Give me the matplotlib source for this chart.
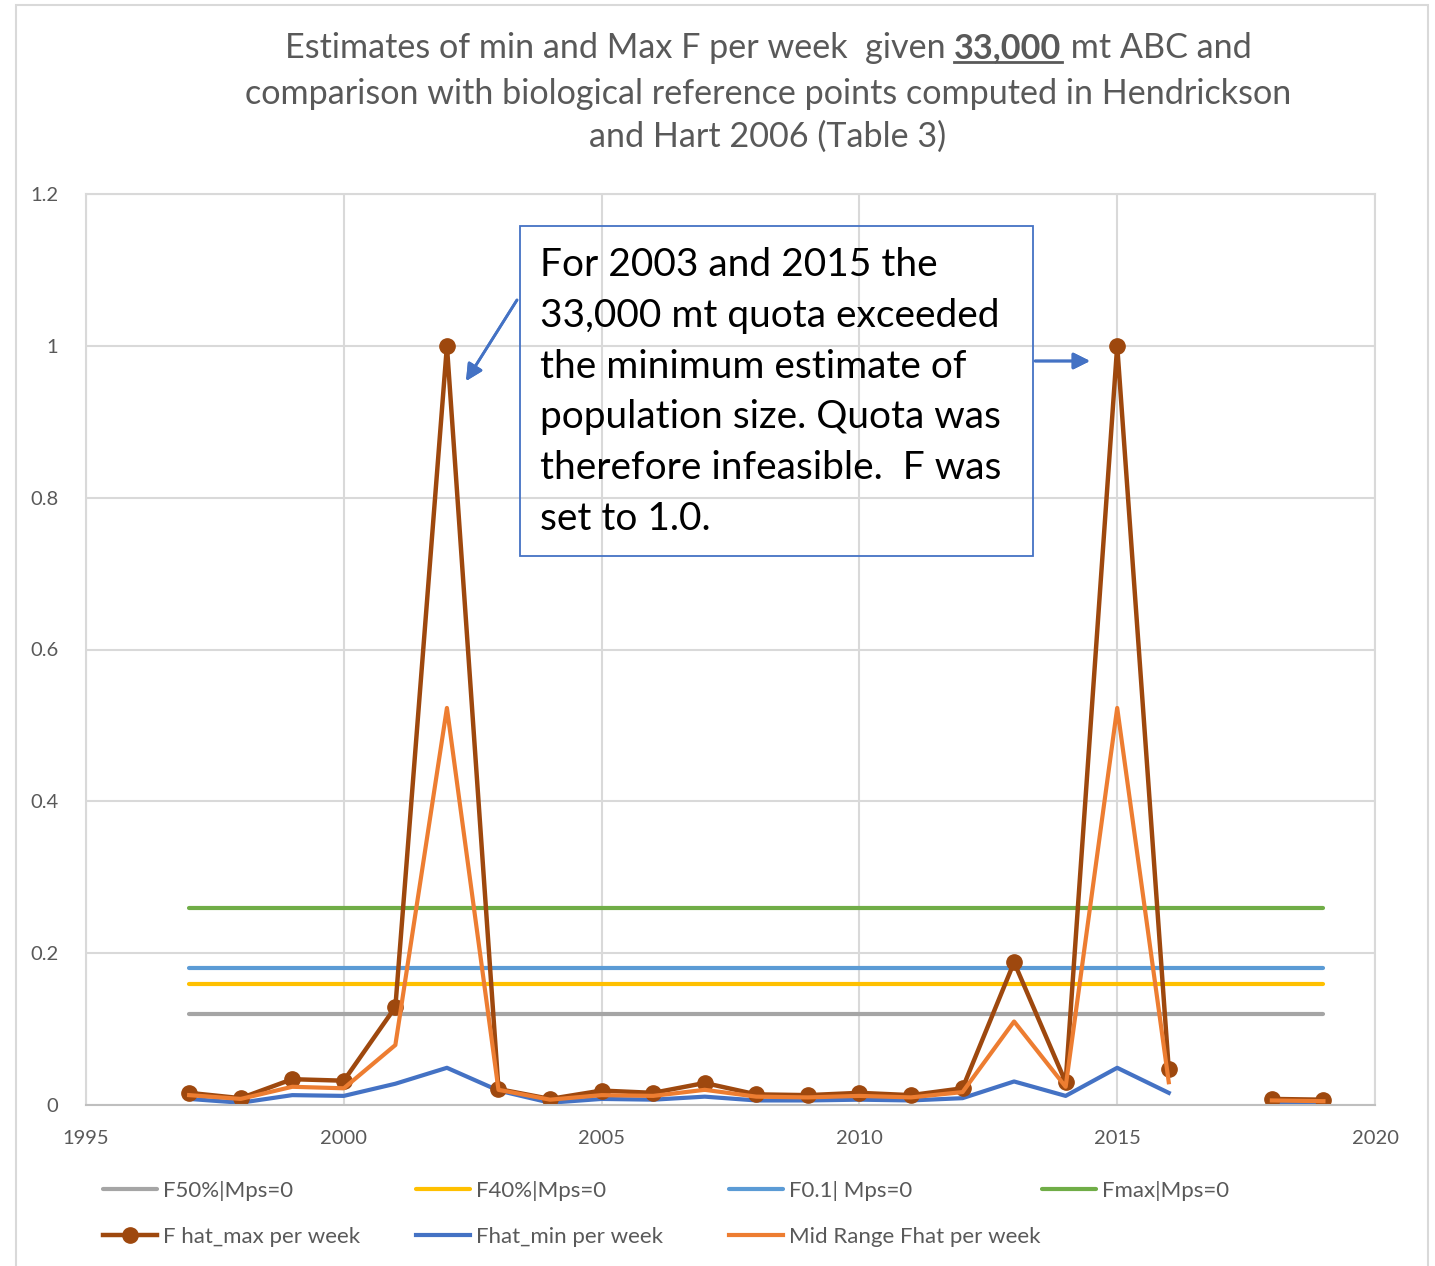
import numpy as np
import matplotlib
matplotlib.use('Agg')
import matplotlib.pyplot as plt
from matplotlib.lines import Line2D
from matplotlib.patches import Rectangle

plt.rcParams['font.family'] = ['Lato', 'DejaVu Sans']

years = np.arange(1997, 2020)
nan = np.nan

# weekly F estimates (2017 has no estimate)
f_hat_max = [0.016, 0.009, 0.034, 0.032, 0.129, 1.0, 0.021, 0.008, 0.019, 0.016,
             0.029, 0.014, 0.013, 0.016, 0.013, 0.022, 0.188, 0.030, 1.0, 0.047,
             nan, 0.008, 0.007]
f_hat_mid = [0.013, 0.008, 0.024, 0.022, 0.079, 0.523, 0.020, 0.007, 0.013, 0.012,
             0.020, 0.011, 0.010, 0.012, 0.010, 0.017, 0.110, 0.024, 0.523, 0.030,
             nan, 0.006, 0.005]
f_hat_min = [0.008, 0.003, 0.013, 0.012, 0.028, 0.049, 0.019, 0.003, 0.008, 0.007,
             0.011, 0.006, 0.006, 0.007, 0.006, 0.009, 0.031, 0.012, 0.049, 0.016,
             nan, 0.004, 0.003]

# biological reference points, Hendrickson and Hart 2006
ref_labels = ['F50%|Mps=0', 'F40%|Mps=0', 'F0.1| Mps=0', 'Fmax|Mps=0']
ref_values = [0.12, 0.16, 0.18, 0.26]
ref_colors = ['#A5A5A5', '#FFC000', '#5B9BD5', '#70AD47']

W, H = 1435, 1266
fig = plt.figure(figsize=(W / 100, H / 100), dpi=100)

def fx(px):
    return px / W

def fy(py):
    return 1 - py / H

ax = fig.add_axes([fx(86), fy(1105), fx(1375) - fx(86), fy(194) - fy(1105)])

grey = '#595959'
grid = '#D9D9D9'

ref_lines = []
for lab, val, col in zip(ref_labels, ref_values, ref_colors):
    ln, = ax.plot(years, np.full(len(years), val), color=col, lw=3.0,
                  solid_capstyle='round', label=lab)
    ref_lines.append(ln)

l_min, = ax.plot(years, f_hat_min, color='#4472C4', lw=3.0, label='Fhat_min per week')
l_mid, = ax.plot(years, f_hat_mid, color='#ED7D31', lw=3.0, label='Mid Range Fhat per week')
l_max, = ax.plot(years, f_hat_max, color='#9E480E', lw=3.2, marker='o', ms=11,
                 label='F hat_max per week')
# orange line sits above the dark markers
l_mid.set_zorder(l_max.get_zorder() + 0.5)

ax.set_xlim(1995, 2020)
ax.set_ylim(0, 1.2)
ax.set_xticks(range(1995, 2021, 5))
ax.set_yticks([0, 0.2, 0.4, 0.6, 0.8, 1.0, 1.2])
ax.set_yticklabels(['0', '0.2', '0.4', '0.6', '0.8', '1', '1.2'])
ax.tick_params(length=0, labelsize=14.5, colors=grey)
ax.tick_params(axis='x', pad=18)
ax.tick_params(axis='y', pad=20)
ax.grid(True, color=grid, lw=1.5)
ax.set_axisbelow(True)
for sp in ax.spines.values():
    sp.set_color(grid)
    sp.set_linewidth(1.5)
ax.spines['bottom'].set_color('#BFBFBF')

# outer chart frame
fig.add_artist(Rectangle((fx(16), fy(1290)), fx(1428) - fx(16), fy(5) - fy(1290),
                         transform=fig.transFigure, fill=False, ec='#D9D9D9', lw=1.5))

# legend, laid out as four evenly spaced columns
cols = [
    [ref_lines[0], l_max],
    [ref_lines[1], l_min],
    [ref_lines[2], l_mid],
    [ref_lines[3]],
]
for i, hs in enumerate(cols):
    leg = fig.legend(handles=hs, labels=[h.get_label() for h in hs],
                     loc='upper left', bbox_to_anchor=(fx(103 + 313 * i), fy(1181)),
                     frameon=False, fontsize=16, handlelength=2.43, handletextpad=0.27,
                     labelspacing=1.15, borderpad=0, borderaxespad=0)
    for t in leg.get_texts():
        t.set_color(grey)

# title, first line has a bold underlined figure in it
tsize = 24.6
parts = [('Estimates of min and Max F per week  given ', 'normal'),
         ('33,000', 'bold'),
         (' mt ABC and', 'normal')]
texts = [fig.text(0, fy(58), s, fontsize=tsize, color=grey, fontweight=w,
                  ha='left', va='baseline') for s, w in parts]
fig.text(fx(768), fy(104), 'comparison with biological reference points computed in Hendrickson',
         fontsize=tsize, color=grey, ha='center', va='baseline')
fig.text(fx(768), fy(147), 'and Hart 2006 (Table 3)',
         fontsize=tsize, color=grey, ha='center', va='baseline')

fig.canvas.draw()
r = fig.canvas.get_renderer()
widths = [t.get_window_extent(r).width for t in texts]
x0 = 768 - sum(widths) / 2
for t, w in zip(texts, widths):
    t.set_x(fx(x0))
    x0 += w
fig.canvas.draw()
bb = texts[1].get_window_extent(r)
fig.add_artist(Line2D([bb.x0 / W, bb.x1 / W], [fy(62), fy(62)],
                      transform=fig.transFigure, color=grey, lw=2))

# note box with arrows pointing to the infeasible years
fig.add_artist(Rectangle((fx(520), fy(556)), fx(1033) - fx(520), fy(226) - fy(556),
                         transform=fig.transFigure, fill=False, ec='#4472C4', lw=1.3))
note = ('For 2003 and 2015 the\n33,000 mt quota exceeded\nthe minimum estimate of\n'
        'population size. Quota was\ntherefore infeasible.  F was\nset to 1.0.')
fig.text(fx(540), fy(247), note, fontsize=28, color='black', ha='left', va='top',
         linespacing=1.51)
arrow = dict(arrowstyle='-|>', color='#4472C4', lw=2, mutation_scale=25,
             shrinkA=0, shrinkB=0)
fig.add_artist(plt.annotate('', xy=(fx(466), fy(381)), xytext=(fx(517), fy(300)),
                            xycoords='figure fraction', textcoords='figure fraction',
                            arrowprops=arrow))
fig.add_artist(plt.annotate('', xy=(fx(1090), fy(361)), xytext=(fx(1035), fy(361)),
                            xycoords='figure fraction', textcoords='figure fraction',
                            arrowprops=arrow))

fig.savefig('out.png', dpi=100, facecolor='white')
